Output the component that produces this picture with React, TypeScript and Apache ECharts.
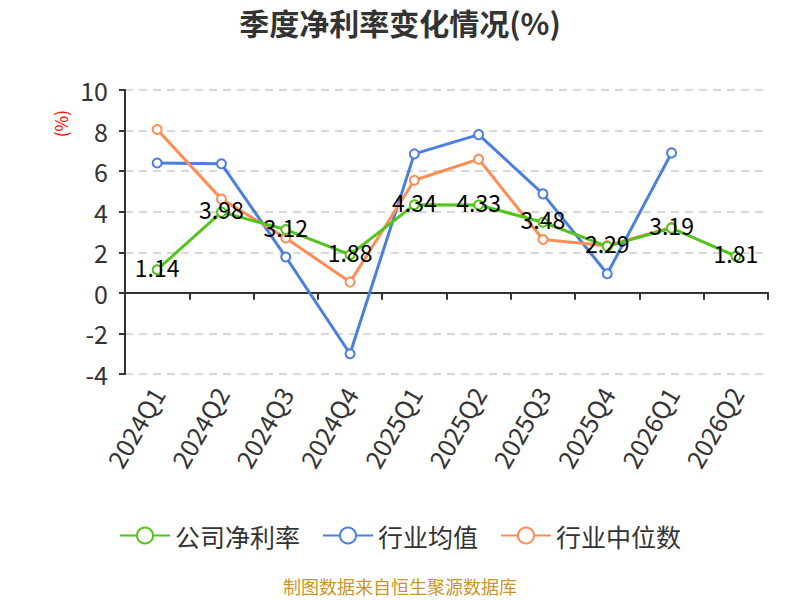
import React, { useEffect, useRef } from "react";
import * as echarts from "echarts";

const categories = ["2024Q1", "2024Q2", "2024Q3", "2024Q4", "2025Q1", "2025Q2", "2025Q3", "2025Q4", "2026Q1", "2026Q2"];
const companyRate = [1.14, 3.98, 3.12, 1.88, 4.34, 4.33, 3.48, 2.29, 3.19, 1.81];
const industryMean = [6.4, 6.36, 1.77, -3.0, 6.85, 7.8, 4.88, 0.94, 6.9, null];
const industryMedian = [8.05, 4.62, 2.7, 0.53, 5.55, 6.59, 2.63, 2.32, 3.22, null];
const yTicks = { min: -4, max: 10, interval: 2 };

const FONT = "'Noto Sans CJK SC', 'Noto Sans', sans-serif";

export default function App() {
  const ref = useRef<HTMLDivElement>(null);
  useEffect(() => {
    if (!ref.current) return;
    const chart = echarts.init(ref.current, undefined, { renderer: "svg" });
    chart.setOption({
      animation: false,
      backgroundColor: "#fff",
      textStyle: { fontFamily: FONT },
      title: {
        text: "季度净利率变化情况(%)",
        left: "center",
        top: 2,
        textStyle: { fontSize: 30, fontWeight: "bold", color: "#333", fontFamily: FONT },
      },
      graphic: [
        {
          type: "text",
          left: 52,
          top: 110,
          rotation: Math.PI / 2,
          style: { text: "(%)", fill: "#ff0000", font: `17px ${FONT}` },
        },
        {
          type: "text",
          left: "center",
          top: 577,
          style: { text: "制图数据来自恒生聚源数据库", fill: "#c9962b", font: `18px ${FONT}` },
        },
      ],
      legend: {
        bottom: 47,
        left: "center",
        itemWidth: 50,
        itemHeight: 20,
        itemGap: 22,
        textStyle: { fontSize: 25, color: "#333", fontFamily: FONT },
        data: ["公司净利率", "行业均值", "行业中位数"],
      },
      grid: { left: 125, right: 32, top: 90, bottom: 226 },
      xAxis: [
        {
          type: "category",
          data: categories,
          position: "bottom",
          axisLine: { show: false, onZero: false },
          axisTick: { show: false },
          axisLabel: { rotate: 60, fontSize: 25, color: "#333", margin: 15, fontFamily: FONT },
        },
        {
          type: "category",
          data: categories,
          axisLine: { show: true, onZero: true, lineStyle: { color: "#333", width: 2 } },
          axisTick: { show: true, inside: true, length: 7, lineStyle: { color: "#333", width: 2 } },
          axisLabel: { show: false },
        },
      ],
      yAxis: {
        type: "value",
        min: yTicks.min,
        max: yTicks.max,
        interval: yTicks.interval,
        axisLine: { show: true, lineStyle: { color: "#333", width: 2 } },
        axisTick: { show: true, length: 6, lineStyle: { color: "#333", width: 2 } },
        axisLabel: { fontSize: 25, color: "#333", margin: 17, fontFamily: FONT },
        splitLine: { lineStyle: { type: [8, 6], color: "#ccc", width: 1.5 } },
      },
      series: [
        {
          name: "公司净利率",
          type: "line",
          data: companyRate,
          color: "#52c41a",
          symbol: "emptyCircle",
          symbolSize: 9,
          lineStyle: { width: 3 },
          z: 3,
          label: {
            show: true,
            position: "inside",
            offset: [0, -3],
            fontSize: 23,
            color: "#000",
            fontFamily: FONT,
          },
        },
        {
          name: "行业均值",
          type: "line",
          data: industryMean,
          color: "#4a7fe0",
          symbol: "emptyCircle",
          symbolSize: 9,
          lineStyle: { width: 3 },
          z: 2,
        },
        {
          name: "行业中位数",
          type: "line",
          data: industryMedian,
          color: "#ff8c55",
          symbol: "emptyCircle",
          symbolSize: 9,
          lineStyle: { width: 3 },
          z: 2,
        },
      ],
    });
    return () => chart.dispose();
  }, []);
  return (
    <div
      ref={ref}
      style={{ width: 800, height: 600, position: "fixed", left: 0, top: 0 }}
    />
  );
}
